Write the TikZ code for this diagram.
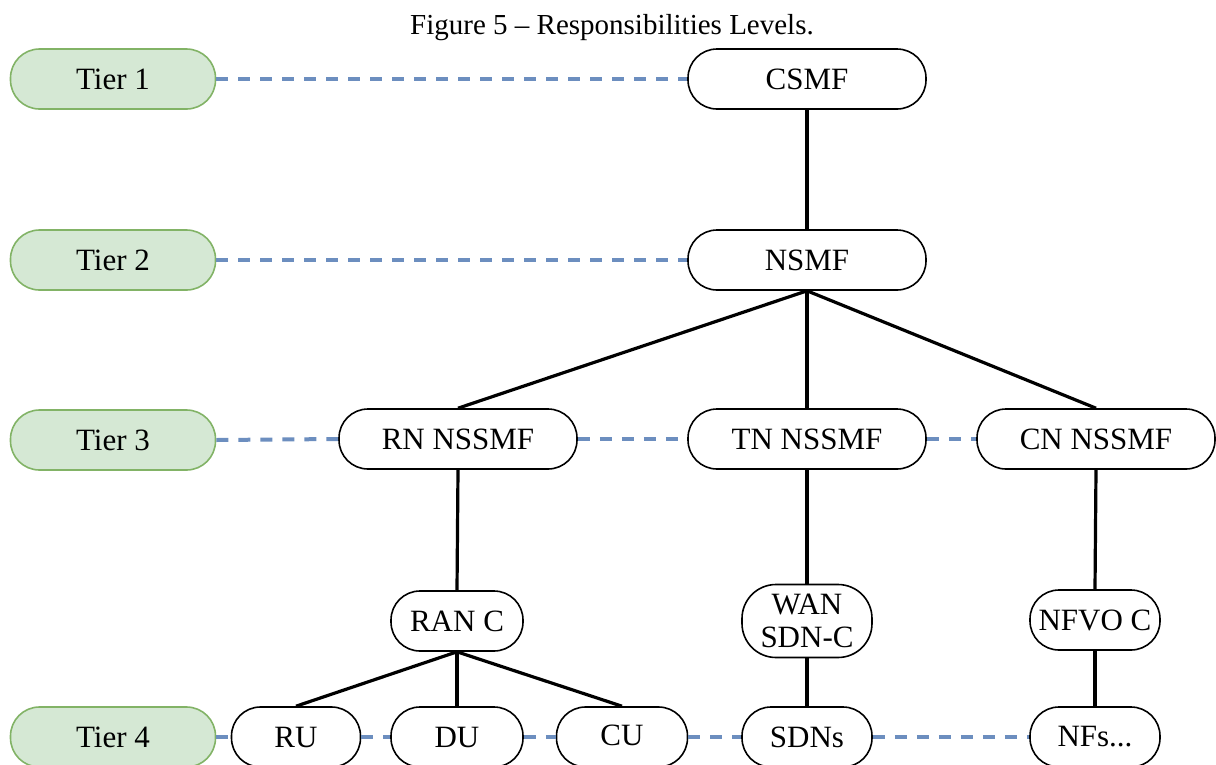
\documentclass[tikz,border=0pt]{standalone}
\usepackage{fontspec}
\setmainfont{Liberation Serif}
\definecolor{tierfill}{HTML}{D5E8D4}
\definecolor{tierline}{HTML}{82B366}
\definecolor{linkblue}{HTML}{6C8EBF}
\tikzset{
  every node/.style={font=\fontsize{31}{33}\selectfont, inner sep=0pt},
  pill/.style={draw=black, line width=1.6pt, rounded corners=29pt,
    minimum height=60pt, minimum width=238pt, align=center},
  smallpill/.style={pill, minimum width=132pt},
  tierbox/.style={pill, draw=tierline, fill=tierfill, minimum width=205pt},
  tree/.style={draw=black, line width=3.2pt},
  level/.style={draw=linkblue, line width=4pt, dash pattern=on 12pt off 10pt}
}
\begin{document}
\begin{tikzpicture}[x=1pt, y=-1pt]
\useasboundingbox (0,0) rectangle (1216,764);

\node[font=\fontsize{29}{31}\selectfont] (title) at (612,28) {Figure 5 -- Responsibilities Levels.};

% tier labels
\node[tierbox] (t1) at (113,79) {Tier 1};
\node[tierbox] (t2) at (113,260) {Tier 2};
\node[tierbox] (t3) at (113,440) {Tier 3};
\node[tierbox] (t4) at (113,737) {Tier 4};

% management functions
\node[pill] (csmf) at (807,79) {CSMF};
\node[pill] (nsmf) at (807,260) {NSMF};
\node[pill] (rn) at (458,439) {RN NSSMF};
\node[pill] (tn) at (807,439) {TN NSSMF};
\node[pill] (cn) at (1096,439) {CN NSSMF};

% controllers
\node[smallpill] (ranc) at (457,621) {RAN C};
\node[smallpill, minimum width=130pt, minimum height=73pt, rounded corners=34pt] (wan) at (807,621) {\fontsize{31}{38}\selectfont WAN\\SDN-C};
\node[smallpill, minimum width=130pt] (nfvo) at (1095,620) {NFVO C};

% managed elements
\node[smallpill, minimum width=129pt] (ru) at (296,737) {RU};
\node[smallpill] (du) at (457,737) {DU};
\node[smallpill, minimum width=131pt] (cu) at (622,737) {\raisebox{3pt}{CU}};
\node[smallpill, minimum width=130pt] (sdns) at (807,737) {SDNs};
\node[smallpill, minimum width=130pt] (nfs) at (1095,737) {NFs...};

% hierarchy
\draw[tree] (csmf.south) -- (nsmf.north);
\draw[tree] (nsmf.south) -- (rn.north);
\draw[tree] (nsmf.south) -- (tn.north);
\draw[tree] (nsmf.south) -- (cn.north);
\draw[tree] (rn.south) -- (ranc.north);
\draw[tree] (tn.south) -- (wan.north);
\draw[tree] (cn.south) -- (nfvo.north);
\draw[tree] (ranc.south) -- (ru.north);
\draw[tree] (ranc.south) -- (du.north);
\draw[tree] (ranc.south) -- (cu.north);
\draw[tree] (wan.south) -- (sdns.north);
\draw[tree] (nfvo.south) -- (nfs.north);

% level links
\draw[level] (t1.east) -- (csmf.west);
\draw[level] (t2.east) -- (nsmf.west);
\draw[level] (t3.east) -- (rn.west);
\draw[level] (rn.east) -- (tn.west);
\draw[level] (tn.east) -- (cn.west);
\draw[level] (t4.east) -- (ru.west);
\draw[level] (ru.east) -- (du.west);
\draw[level] (du.east) -- (cu.west);
\draw[level] (cu.east) -- (sdns.west);
\draw[level] (sdns.east) -- (nfs.west);
\end{tikzpicture}
\end{document}
